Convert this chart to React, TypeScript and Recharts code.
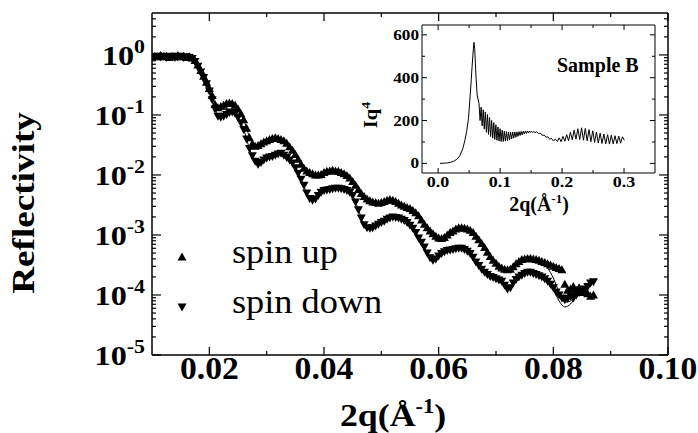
import React from 'react';
import { ComposedChart, LineChart, Line, Scatter, XAxis, YAxis, ReferenceLine, Legend, Label } from 'recharts';

const FONT = '"Liberation Serif", "Times New Roman", Times, serif';

// ---- main panel: reflectivity vs 2q ----
const q = [
  0.01, 0.0105, 0.011, 0.0115, 0.012, 0.0125, 0.013, 0.0135, 0.014, 0.0145,
  0.015, 0.0155, 0.016, 0.0165, 0.017, 0.0175, 0.018, 0.0185, 0.019, 0.0195,
  0.02, 0.0205, 0.021, 0.0215, 0.022, 0.0225, 0.023, 0.0235, 0.024, 0.0245,
  0.025, 0.0255, 0.026, 0.0265, 0.027, 0.0275, 0.028, 0.0285, 0.029, 0.0295,
  0.03, 0.0305, 0.031, 0.0315, 0.032, 0.0325, 0.033, 0.0335, 0.034, 0.0345,
  0.035, 0.0355, 0.036, 0.0365, 0.037, 0.0375, 0.038, 0.0385, 0.039, 0.0395,
  0.04, 0.0405, 0.041, 0.0415, 0.042, 0.0425, 0.043, 0.0435, 0.044, 0.0445,
  0.045, 0.0455, 0.046, 0.0465, 0.047, 0.0475, 0.048, 0.0485, 0.049, 0.0495,
  0.05, 0.0505, 0.051, 0.0515, 0.052, 0.0525, 0.053, 0.0535, 0.054, 0.0545,
  0.055, 0.0555, 0.056, 0.0565, 0.057, 0.0575, 0.058, 0.0585, 0.059, 0.0595,
  0.06, 0.0605, 0.061, 0.0615, 0.062, 0.0625, 0.063, 0.0635, 0.064, 0.0645,
  0.065, 0.0655, 0.066, 0.0665, 0.067, 0.0675, 0.068, 0.0685, 0.069, 0.0695,
  0.07, 0.0705, 0.071, 0.0715, 0.072, 0.0725, 0.073, 0.0735, 0.074, 0.0745,
  0.075, 0.0755, 0.076, 0.0765, 0.077, 0.0775, 0.078, 0.0785, 0.079, 0.0795,
  0.08, 0.0805, 0.081, 0.0815, 0.082, 0.0825, 0.083, 0.0835, 0.084, 0.0845,
  0.085, 0.0855, 0.086, 0.0865, 0.087,
];

const spinUp = [
  0.93, 0.95, 0.93, 0.98, 0.93, 0.95, 0.91, 0.95, 0.93, 0.98,
  0.93, 0.95, 0.91, 0.93, 0.89, 0.81, 0.68, 0.55, 0.44, 0.35,
  0.275, 0.21, 0.15, 0.132, 0.138, 0.145, 0.155, 0.158, 0.155, 0.145,
  0.126, 0.105, 0.0832, 0.0603, 0.0417, 0.0331, 0.0302, 0.0309, 0.0331, 0.0355,
  0.0372, 0.0389, 0.0407, 0.0417, 0.0407, 0.0389, 0.0372, 0.0339, 0.0295, 0.0257,
  0.0219, 0.0182, 0.0151, 0.0129, 0.0117, 0.011, 0.0105, 0.01, 0.01, 0.0102,
  0.011, 0.0115, 0.0117, 0.012, 0.0117, 0.0115, 0.011, 0.0105, 0.00977, 0.00891,
  0.00776, 0.00676, 0.00575, 0.0049, 0.00437, 0.00398, 0.00372, 0.00355, 0.00347, 0.00339,
  0.00347, 0.00363, 0.0038, 0.00389, 0.0038, 0.00363, 0.00339, 0.00316, 0.00302, 0.00288,
  0.00275, 0.00257, 0.00234, 0.00209, 0.00178, 0.00151, 0.00132, 0.00117, 0.00105, 0.000955,
  0.000891, 0.000871, 0.000912, 0.001, 0.0011, 0.00117, 0.00126, 0.00132, 0.00132, 0.00129,
  0.00126, 0.0012, 0.0011, 0.000955, 0.000832, 0.000724, 0.000617, 0.000513, 0.000437, 0.00038,
  0.000339, 0.000302, 0.000282, 0.000269, 0.000263, 0.000269, 0.000295, 0.000331, 0.000363, 0.000389,
  0.000398, 0.000407, 0.000407, 0.000398, 0.000389, 0.00038, 0.000363, 0.000347, 0.000331, 0.000316,
  0.000302, 0.000288, 0.000275, 0.000263, 0.000151, 0.00012, 0.000126, 0.000138, 0.00012, 0.000132,
  0.00011, 0.000117, 0.000105, 0.0000955, 0.0001,
];

const spinDown = [
  0.91, 0.93, 0.95, 0.93, 0.95, 0.91, 0.93, 0.95, 0.91, 0.93,
  0.95, 0.91, 0.93, 0.91, 0.87, 0.78, 0.65, 0.52, 0.42, 0.33,
  0.25, 0.18, 0.126, 0.0955, 0.0912, 0.0955, 0.102, 0.11, 0.112, 0.107,
  0.0912, 0.0741, 0.0575, 0.0398, 0.0275, 0.0209, 0.017, 0.0151, 0.0162, 0.0178,
  0.0191, 0.02, 0.0204, 0.0214, 0.0224, 0.0229, 0.0214, 0.0195, 0.0178, 0.0158,
  0.0132, 0.0107, 0.00851, 0.00676, 0.00501, 0.00407, 0.0038, 0.00398, 0.00457, 0.00513,
  0.0055, 0.00562, 0.00575, 0.00589, 0.00603, 0.00603, 0.00589, 0.00575, 0.0055, 0.00513,
  0.00457, 0.00355, 0.00263, 0.00191, 0.00148, 0.00132, 0.00129, 0.00132, 0.00141, 0.00151,
  0.00162, 0.0017, 0.00182, 0.00191, 0.002, 0.00195, 0.00191, 0.00182, 0.00174, 0.00162,
  0.00145, 0.00129, 0.0011, 0.000891, 0.000759, 0.000631, 0.000501, 0.000417, 0.00038, 0.000398,
  0.000447, 0.00049, 0.000525, 0.00055, 0.000562, 0.000575, 0.000589, 0.000603, 0.000603, 0.000575,
  0.000537, 0.00049, 0.000427, 0.000355, 0.000309, 0.000269, 0.00024, 0.000219, 0.000204, 0.000195,
  0.000186, 0.000178, 0.00017, 0.000145, 0.000126, 0.000132, 0.000158, 0.000182, 0.0002, 0.000214,
  0.000229, 0.00024, 0.00024, 0.000229, 0.000219, 0.000209, 0.0002, 0.000186, 0.00017, 0.000151,
  0.000132, 0.000112, 0.0001, 0.0000891, 0.0000832, 0.0000871, 0.0000955, 0.0000891, 0.0001, 0.00011,
  0.000117, 0.000126, 0.000138, 0.000158, 0.000166,
];

// fitted curves
const fitQ = [
  0.01, 0.011, 0.012, 0.013, 0.014, 0.015, 0.016, 0.017, 0.018, 0.019,
  0.02, 0.021, 0.022, 0.023, 0.024, 0.025, 0.026, 0.027, 0.028, 0.029,
  0.03, 0.031, 0.032, 0.033, 0.034, 0.035, 0.036, 0.037, 0.038, 0.039,
  0.04, 0.041, 0.042, 0.043, 0.044, 0.045, 0.046, 0.047, 0.048, 0.049,
  0.05, 0.051, 0.052, 0.053, 0.054, 0.055, 0.056, 0.057, 0.058, 0.059,
  0.06, 0.061, 0.062, 0.063, 0.064, 0.065, 0.066, 0.067, 0.068, 0.069,
  0.07, 0.071, 0.072, 0.073, 0.074, 0.075, 0.076, 0.077, 0.078, 0.079,
  0.08, 0.081, 0.082, 0.083, 0.084, 0.085, 0.086, 0.087,
];

const fitUp = [
  0.955, 0.955, 0.955, 0.955, 0.955, 0.955, 0.933, 0.891, 0.692, 0.437,
  0.275, 0.158, 0.135, 0.151, 0.155, 0.126, 0.0832, 0.0437, 0.0316, 0.0331,
  0.0372, 0.0407, 0.0407, 0.0372, 0.0295, 0.0219, 0.0151, 0.0117, 0.0105, 0.01,
  0.011, 0.0117, 0.0117, 0.011, 0.00977, 0.00776, 0.00575, 0.00437, 0.00372, 0.00347,
  0.00347, 0.0038, 0.0038, 0.00339, 0.00302, 0.00275, 0.00234, 0.00178, 0.00132, 0.00105,
  0.000891, 0.000912, 0.0011, 0.00126, 0.00132, 0.00126, 0.0011, 0.000832, 0.000617, 0.000437,
  0.000339, 0.000282, 0.000263, 0.000295, 0.000363, 0.000398, 0.000407, 0.000389, 0.000355, 0.000282,
  0.000191, 0.000112, 0.0000759, 0.0000794, 0.000105, 0.000126, 0.000112, 0.0000955,
];

const fitDown = [
  0.933, 0.933, 0.933, 0.933, 0.933, 0.933, 0.912, 0.871, 0.646, 0.417,
  0.251, 0.126, 0.0912, 0.102, 0.112, 0.0912, 0.0575, 0.0275, 0.017, 0.0162,
  0.0191, 0.0204, 0.0224, 0.0214, 0.0178, 0.0132, 0.00851, 0.00501, 0.0038, 0.00457,
  0.0055, 0.00575, 0.00603, 0.00589, 0.0055, 0.00457, 0.00263, 0.00148, 0.00129, 0.00141,
  0.00162, 0.00182, 0.002, 0.00191, 0.00174, 0.00145, 0.0011, 0.000759, 0.000501, 0.00038,
  0.000447, 0.000525, 0.000562, 0.000589, 0.000603, 0.000537, 0.000427, 0.000309, 0.00024, 0.000204,
  0.000186, 0.00017, 0.000132, 0.000158, 0.0002, 0.000229, 0.00024, 0.000219, 0.0002, 0.00017,
  0.000126, 0.0000794, 0.0000631, 0.0000708, 0.0000955, 0.00012, 0.000141, 0.000158,
];

const xMajorTicks = [0.02, 0.04, 0.06, 0.08, 0.1];
const xMinorTicks = [0.03, 0.05, 0.07, 0.09];
const yDecades = [1e-5, 1e-4, 1e-3, 1e-2, 1e-1, 1];

const legendItems = [
  { label: 'spin up', dir: 'up' },
  { label: 'spin down', dir: 'down' },
];

// ---- inset: Iq^4 vs 2q, Sample B ----
const insetQ = [
  0.003, 0.01, 0.015, 0.02, 0.025, 0.03, 0.035, 0.04, 0.043, 0.046,
  0.049, 0.051, 0.053, 0.055, 0.0565, 0.0578, 0.059, 0.061, 0.063, 0.066,
  0.0677, 0.0694, 0.0711, 0.0728, 0.0745, 0.0762, 0.0779, 0.0796, 0.0813, 0.083,
  0.0847, 0.0864, 0.0881, 0.0898, 0.0915, 0.0932, 0.0949, 0.0966, 0.0983, 0.1,
  0.1017, 0.1034, 0.1051, 0.1068, 0.1085, 0.1102, 0.1119, 0.1136, 0.1153, 0.117,
  0.1187, 0.1204, 0.1221, 0.1238, 0.1255, 0.1272, 0.1289, 0.1306, 0.1323, 0.134,
  0.1357, 0.1374, 0.1391, 0.1408, 0.1425, 0.1442, 0.1459, 0.1476, 0.1493, 0.151,
  0.1527, 0.1544, 0.1561,
  0.159, 0.162, 0.165, 0.168, 0.171, 0.174, 0.177, 0.18, 0.183, 0.186,
  0.1895, 0.1925, 0.1955, 0.1985, 0.2015, 0.2045, 0.2075, 0.2105, 0.2135, 0.2165,
  0.2195, 0.2225, 0.2255, 0.2285, 0.2315, 0.2345, 0.2375, 0.2405, 0.2435, 0.2465,
  0.2495, 0.2525, 0.2555, 0.2585, 0.2615, 0.2645, 0.2675, 0.2705, 0.2735, 0.2765,
  0.2795, 0.2825, 0.2855, 0.2885, 0.2915, 0.2945, 0.2975, 0.3005,
];

const insetIq4 = [
  0, 1, 2, 5, 10, 18, 35, 70, 105, 148,
  210, 288, 370, 459, 520, 565, 537, 412, 319, 280,
  200, 262, 175, 250, 160, 240, 145, 228, 135, 215,
  125, 200, 118, 190, 112, 180, 108, 170, 104, 162,
  102, 155, 102, 150, 104, 148, 106, 146, 110, 145,
  114, 146, 118, 146, 122, 147, 126, 148, 130, 149,
  133, 150, 137, 151, 140, 151, 142, 151, 144, 150,
  144, 149, 143,
  148, 139, 141, 131, 132, 122, 124, 113, 116, 105,
  113, 102, 119, 101, 126, 103, 134, 106, 145, 110,
  155, 113, 162, 111, 166, 108, 163, 105, 158, 101,
  152, 98, 146, 95, 141, 93, 137, 91, 134, 90,
  131, 91, 129, 92, 127, 94, 124, 108,
];

const insetXMajor = [0, 0.1, 0.2, 0.3];
const insetXMinor = [0.05, 0.15, 0.25];
const insetYMajor = [0, 200, 400, 600];
const insetYMinor = [100, 300, 500];

// ---- layout ----
const W = 698;
const H = 433;
const MAIN_MARGIN = { top: 13, right: 30, bottom: 0, left: 2 };
const MAIN_RIGHT = W - MAIN_MARGIN.right;
const MAIN_TOP = MAIN_MARGIN.top;

const INSET_W = 330;
const INSET_H = 210;
const INSET_MARGIN = { top: 15, right: 15, bottom: 0, left: 2 };
const INSET_RIGHT = INSET_W - INSET_MARGIN.right;
const INSET_TOP = INSET_MARGIN.top;

const upData = q.map((x, i) => ({ q: x, r: spinUp[i] }));
const downData = q.map((x, i) => ({ q: x, r: spinDown[i] }));
const fitUpData = fitQ.map((x, i) => ({ q: x, r: fitUp[i] }));
const fitDownData = fitQ.map((x, i) => ({ q: x, r: fitDown[i] }));
const insetData = insetQ.map((x, i) => ({ q: x, i: insetIq4[i] }));

const xTicks = [...xMajorTicks, ...xMinorTicks].sort((a, b) => a - b);
const yTicks = yDecades
  .flatMap((d) => [1, 2, 3, 4, 5, 6, 7, 8, 9].map((m) => m * d))
  .filter((v) => v < 5);

const UpTriangle = (p: any) => (
  <path d={`M${p.cx},${p.cy - 4.5}L${p.cx + 4.5},${p.cy + 3.5}L${p.cx - 4.5},${p.cy + 3.5}Z`} fill="#000" />
);
const DownTriangle = (p: any) => (
  <path d={`M${p.cx},${p.cy + 4.5}L${p.cx + 4.5},${p.cy - 3.5}L${p.cx - 4.5},${p.cy - 3.5}Z`} fill="#000" />
);

function MainXTick(props: any) {
  const { x, y, payload } = props;
  const major = xMajorTicks.includes(payload.value);
  const len = major ? 8 : 4;
  return (
    <g>
      <line x1={x} x2={x} y1={y} y2={y - len} stroke="#000" strokeWidth={1.2} />
      <line x1={x} x2={x} y1={MAIN_TOP} y2={MAIN_TOP + len} stroke="#000" strokeWidth={1.2} />
      {major && (
        <g transform={`translate(${x},${y + 24}) scale(1.05,1)`}>
          <text textAnchor="middle" fontFamily={FONT} fontWeight="bold" fontSize={32} fill="#000">
            {payload.value.toFixed(2)}
          </text>
        </g>
      )}
    </g>
  );
}

function MainYTick(props: any) {
  const { x, y, payload } = props;
  const lg = Math.log10(payload.value);
  const exp = Math.round(lg);
  const major = Math.abs(lg - exp) < 1e-6;
  const len = major ? 9 : 4;
  return (
    <g>
      <line x1={x} x2={x + len} y1={y} y2={y} stroke="#000" strokeWidth={1.2} />
      <line x1={MAIN_RIGHT} x2={MAIN_RIGHT - len} y1={y} y2={y} stroke="#000" strokeWidth={1.2} />
      {major && (
        <g transform={`translate(${x - 7},${y + 10}) scale(1.15,1)`}>
          <text textAnchor="end" fontFamily={FONT} fontWeight="bold" fontSize={28} fill="#000">
            10<tspan fontSize={19} dy={-12}>{exp}</tspan>
          </text>
        </g>
      )}
    </g>
  );
}

function InsetXTick(props: any) {
  const { x, y, payload } = props;
  const major = insetXMajor.includes(payload.value);
  const len = major ? 5 : 3;
  return (
    <g>
      <line x1={x} x2={x} y1={y} y2={y - len} stroke="#000" />
      <line x1={x} x2={x} y1={INSET_TOP} y2={INSET_TOP + len} stroke="#000" />
      {major && (
        <g transform={`translate(${x},${y + 14}) scale(1.2,1)`}>
          <text textAnchor="middle" fontFamily={FONT} fontWeight="bold" fontSize={15} fill="#000">
            {payload.value.toFixed(1)}
          </text>
        </g>
      )}
    </g>
  );
}

function InsetYTick(props: any) {
  const { x, y, payload } = props;
  const major = insetYMajor.includes(payload.value);
  const len = major ? 5 : 3;
  return (
    <g>
      <line x1={x} x2={x + len} y1={y} y2={y} stroke="#000" />
      <line x1={INSET_RIGHT} x2={INSET_RIGHT - len} y1={y} y2={y} stroke="#000" />
      {major && (
        <g transform={`translate(${x - 3},${y + 5}) scale(1.15,1)`}>
          <text textAnchor="end" fontFamily={FONT} fontWeight="bold" fontSize={15} fill="#000">
            {payload.value}
          </text>
        </g>
      )}
    </g>
  );
}

function SpinLegend() {
  return (
    <svg width={240} height={100} style={{ display: 'block', overflow: 'visible' }}>
      {legendItems.map((item, i) => {
        const cy = 29 + i * 50;
        return (
          <g key={item.label}>
            {item.dir === 'up' ? <UpTriangle cx={14} cy={cy} /> : <DownTriangle cx={14} cy={cy} />}
            <g transform={`translate(64,${cy + 6}) scale(1.1,1)`}>
              <text fontFamily={FONT} fontSize={33} fill="#000">{item.label}</text>
            </g>
          </g>
        );
      })}
    </svg>
  );
}

function SampleLabel() {
  return (
    <svg width={110} height={30} style={{ display: 'block', overflow: 'visible' }}>
      <text x={0} y={22} fontFamily={FONT} fontWeight="bold" fontSize={20} fill="#000">Sample B</text>
    </svg>
  );
}

const frame = { stroke: '#000', strokeWidth: 1.5 };

export default function App() {
  return (
    <div style={{ position: 'absolute', left: 0, top: 0, width: W, height: H, background: '#fff' }}>
      <ComposedChart width={W} height={H} margin={MAIN_MARGIN}>
        <XAxis
          dataKey="q"
          type="number"
          domain={[0.01, 0.1]}
          allowDataOverflow
          ticks={xTicks}
          interval={0}
          height={78}
          axisLine={frame}
          tickLine={false}
          tickSize={0}
          tickMargin={0}
          tick={<MainXTick />}
        >
          <Label
            content={() => (
              <g transform="translate(393,426) scale(1.12,1)">
                <text textAnchor="middle" fontFamily={FONT} fontWeight="bold" fontSize={32} fill="#000">
                  2q(Å<tspan fontSize={20} dy={-13}>-1</tspan><tspan dy={13}>)</tspan>
                </text>
              </g>
            )}
          />
        </XAxis>
        <YAxis
          dataKey="r"
          type="number"
          scale="log"
          domain={[1e-5, 5]}
          allowDataOverflow
          ticks={yTicks}
          interval={0}
          width={150}
          axisLine={frame}
          tickLine={false}
          tickSize={0}
          tickMargin={0}
          tick={<MainYTick />}
        >
          <Label
            content={() => (
              <g transform="translate(34,203) rotate(-90) scale(1.2,1)">
                <text textAnchor="middle" fontFamily={FONT} fontWeight="bold" fontSize={31} fill="#000">
                  Reflectivity
                </text>
              </g>
            )}
          />
        </YAxis>
        <ReferenceLine x={0.1} stroke="#000" strokeWidth={1.5} />
        <ReferenceLine y={5} stroke="#000" strokeWidth={1.5} />
        <Line data={fitUpData} dataKey="r" type="monotone" stroke="#000" strokeWidth={1} dot={false} isAnimationActive={false} />
        <Line data={fitDownData} dataKey="r" type="monotone" stroke="#000" strokeWidth={1} dot={false} isAnimationActive={false} />
        <Scatter data={upData} dataKey="r" shape={UpTriangle} isAnimationActive={false} />
        <Scatter data={downData} dataKey="r" shape={DownTriangle} isAnimationActive={false} />
        <Legend
          layout="vertical"
          align="center"
          verticalAlign="middle"
          content={() => <SpinLegend />}
          wrapperStyle={{ position: 'absolute', left: 168, top: 228, width: 240, height: 100 }}
        />
      </ComposedChart>

      <div style={{ position: 'absolute', left: 340, top: 10 }}>
        <LineChart width={INSET_W} height={INSET_H} data={insetData} margin={INSET_MARGIN}>
          <XAxis
            dataKey="q"
            type="number"
            domain={[-0.026, 0.35]}
            allowDataOverflow
            ticks={[...insetXMajor, ...insetXMinor].sort((a, b) => a - b)}
            interval={0}
            height={47}
            axisLine={{ stroke: '#000', strokeWidth: 1 }}
            tickLine={false}
            tickSize={0}
            tickMargin={0}
            tick={<InsetXTick />}
          >
            <Label
              content={() => (
                <text x={199} y={201} textAnchor="middle" fontFamily={FONT} fontWeight="bold" fontSize={20} fill="#000">
                  2q(Å<tspan fontSize={13} dy={-8}>-1</tspan><tspan dy={8}>)</tspan>
                </text>
              )}
            />
          </XAxis>
          <YAxis
            dataKey="i"
            type="number"
            domain={[-45, 646]}
            allowDataOverflow
            ticks={[...insetYMajor, ...insetYMinor].sort((a, b) => a - b)}
            interval={0}
            width={80}
            axisLine={{ stroke: '#000', strokeWidth: 1 }}
            tickLine={false}
            tickSize={0}
            tickMargin={0}
            tick={<InsetYTick />}
          >
            <Label
              content={() => (
                <g transform="translate(37,105) rotate(-90) scale(1.15,1)">
                  <text textAnchor="middle" fontFamily={FONT} fontWeight="bold" fontSize={18} fill="#000">
                    Iq<tspan fontSize={12} dy={-7}>4</tspan>
                  </text>
                </g>
              )}
            />
          </YAxis>
          <ReferenceLine x={0.35} stroke="#000" strokeWidth={1} />
          <ReferenceLine y={646} stroke="#000" strokeWidth={1} />
          <Line dataKey="i" type="linear" stroke="#000" strokeWidth={1} dot={false} isAnimationActive={false} />
          <Legend
            layout="vertical"
            align="center"
            verticalAlign="middle"
            content={() => <SampleLabel />}
            wrapperStyle={{ position: 'absolute', left: 217, top: 40, width: 110, height: 30 }}
          />
        </LineChart>
      </div>
    </div>
  );
}
